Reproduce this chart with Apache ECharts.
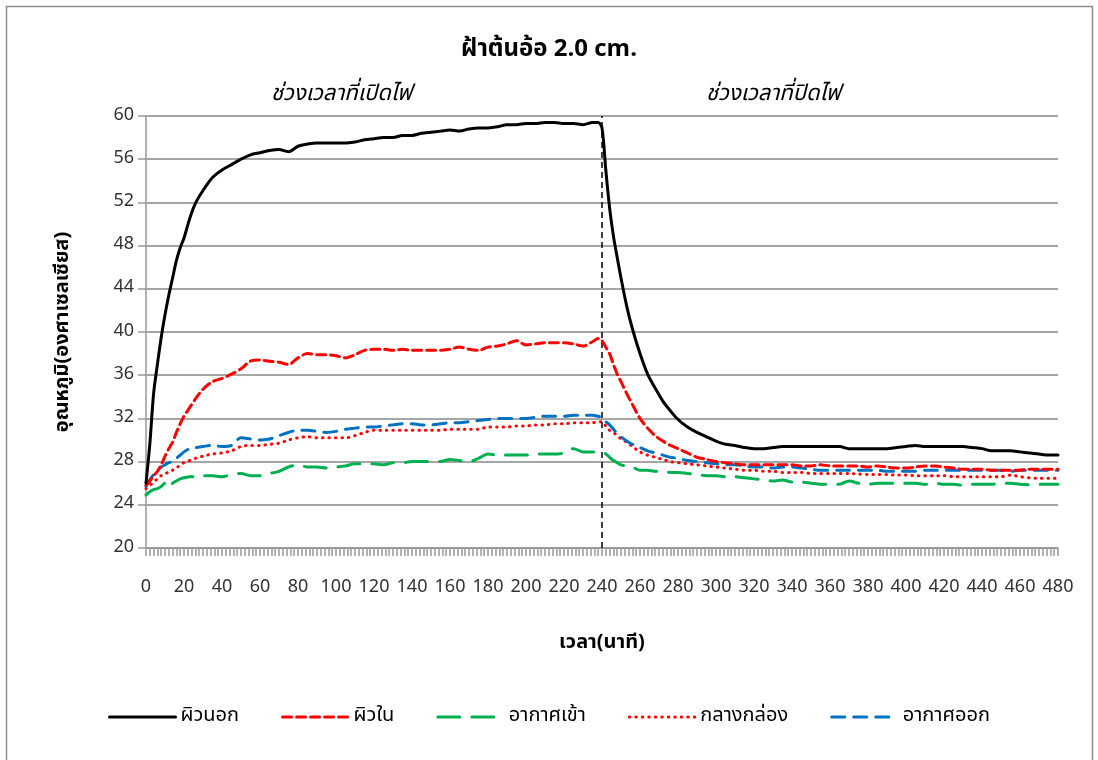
<!DOCTYPE html>
<html>
<head>
<meta charset="utf-8">
<script src="https://cdn.jsdelivr.net/npm/echarts@6/dist/echarts.min.js"></script>
<style>
  html, body { margin: 0; padding: 0; background: #fff; }
  #main { width: 1098px; height: 760px; }
</style>
</head>
<body>
<div id="main"></div>
<script>
const FONT = "Tahoma, 'Noto Sans Thai', 'Leelawadee UI', 'Noto Sans', sans-serif";

// time (minutes)
const minutes = [0,2,4,6,8,10,12,14,16,18,20,23,26,30,35,40,45,50,55,60,65,70,75,80,85,90,95,100,105,110,115,120,125,130,135,140,145,150,155,160,165,170,175,180,185,190,195,200,205,210,215,220,225,230,235,238,240,242,244,246,248,250,253,256,260,264,268,272,276,280,285,290,295,300,305,310,315,320,325,330,335,340,345,350,355,360,365,370,375,380,385,390,395,400,405,410,415,420,425,430,435,440,445,450,455,460,465,470,475,480];

const seriesNames = ['ผิวนอก', 'ผิวใน', 'อากาศเข้า', 'กลางกล่อง', 'อากาศออก'];

const outerSkin = [26.0,29.6,34.3,37.0,39.5,41.6,43.4,45.0,46.6,47.8,48.7,50.5,51.9,53.1,54.3,55.0,55.5,56.0,56.4,56.6,56.8,56.9,56.7,57.2,57.4,57.5,57.5,57.5,57.5,57.6,57.8,57.9,58.0,58.0,58.2,58.2,58.4,58.5,58.6,58.7,58.6,58.8,58.9,58.9,59.0,59.2,59.2,59.3,59.3,59.4,59.4,59.3,59.3,59.2,59.4,59.4,58.9,55.0,51.5,48.9,46.9,45.0,42.4,40.3,38.0,36.1,34.8,33.6,32.7,31.9,31.2,30.7,30.3,29.9,29.6,29.5,29.3,29.2,29.2,29.3,29.4,29.4,29.4,29.4,29.4,29.4,29.4,29.2,29.2,29.2,29.2,29.2,29.3,29.4,29.5,29.4,29.4,29.4,29.4,29.4,29.3,29.2,29.0,29.0,29.0,28.9,28.8,28.7,28.6,28.6];

const innerSkin = [25.8,26.2,26.7,27.1,27.7,28.5,29.2,29.8,30.7,31.5,32.2,33.0,33.8,34.7,35.4,35.7,36.1,36.6,37.3,37.4,37.3,37.2,37.0,37.6,38.0,37.9,37.9,37.8,37.6,37.9,38.3,38.4,38.4,38.3,38.4,38.3,38.3,38.3,38.3,38.4,38.6,38.4,38.3,38.6,38.7,38.9,39.2,38.8,38.9,39.0,39.0,39.0,38.9,38.7,39.1,39.4,39.2,38.6,38.0,37.0,36.1,35.4,34.3,33.3,32.0,31.1,30.4,29.9,29.5,29.2,28.8,28.4,28.2,28.0,27.9,27.8,27.7,27.7,27.7,27.7,27.7,27.7,27.6,27.6,27.7,27.6,27.6,27.6,27.6,27.5,27.6,27.5,27.4,27.4,27.5,27.6,27.6,27.5,27.4,27.3,27.3,27.3,27.2,27.2,27.2,27.2,27.3,27.3,27.3,27.3];

const airIn = [24.9,25.2,25.4,25.5,25.7,26.0,25.6,26.0,26.2,26.4,26.5,26.6,26.6,26.7,26.7,26.6,26.8,26.9,26.7,26.7,26.9,27.1,27.5,27.7,27.5,27.5,27.4,27.5,27.6,27.8,27.8,27.8,27.7,27.9,27.9,28.0,28.0,28.0,28.0,28.2,28.1,28.0,28.3,28.7,28.6,28.6,28.6,28.6,28.7,28.7,28.7,28.8,29.2,28.9,28.9,28.9,28.9,28.7,28.4,28.1,27.9,27.7,27.6,27.5,27.2,27.2,27.1,27.1,27.0,27.0,26.9,26.8,26.7,26.7,26.6,26.6,26.5,26.4,26.3,26.2,26.3,26.1,26.1,26.0,25.9,25.9,25.9,26.2,26.0,25.9,26.0,26.0,26.0,26.0,26.0,25.9,26.0,25.9,25.9,25.8,25.9,25.9,25.9,26.0,26.0,25.9,25.85,25.9,25.9,25.9];

const boxMiddle = [25.5,25.8,26.1,26.4,26.7,26.9,27.0,27.2,27.4,27.7,27.9,28.1,28.3,28.5,28.7,28.8,29.0,29.4,29.5,29.5,29.6,29.7,30.0,30.2,30.3,30.2,30.2,30.2,30.2,30.4,30.7,30.9,30.9,30.9,30.9,30.9,30.9,30.9,30.9,31.0,31.0,31.0,31.0,31.2,31.2,31.2,31.3,31.3,31.4,31.4,31.5,31.5,31.6,31.6,31.6,31.7,31.7,31.3,30.9,30.7,30.4,30.1,29.8,29.4,28.9,28.6,28.4,28.2,28.0,27.9,27.8,27.7,27.6,27.5,27.4,27.3,27.2,27.2,27.1,27.1,27.0,27.0,27.0,26.9,26.9,26.9,26.9,26.9,26.85,26.8,26.8,26.8,26.75,26.75,26.7,26.7,26.7,26.7,26.6,26.6,26.6,26.6,26.6,26.6,26.75,26.6,26.5,26.45,26.45,26.45];

const airOut = [25.7,26.3,26.8,27.2,27.5,27.7,27.9,28.0,28.3,28.6,28.9,29.2,29.3,29.4,29.5,29.4,29.5,30.2,30.1,30.0,30.1,30.4,30.7,30.9,30.9,30.8,30.7,30.8,31.0,31.1,31.2,31.2,31.3,31.4,31.5,31.5,31.4,31.4,31.5,31.6,31.6,31.7,31.8,31.9,32.0,32.0,32.0,32.0,32.1,32.2,32.2,32.2,32.3,32.3,32.3,32.2,32.1,31.7,31.4,31.0,30.6,30.3,29.9,29.6,29.3,29.0,28.8,28.6,28.4,28.3,28.1,28.0,27.9,27.8,27.7,27.7,27.6,27.5,27.5,27.4,27.5,27.5,27.4,27.3,27.2,27.2,27.2,27.2,27.2,27.2,27.2,27.1,27.1,27.1,27.1,27.2,27.2,27.2,27.2,27.2,27.2,27.2,27.2,27.2,27.1,27.2,27.2,27.2,27.2,27.2];

const switchOffMinute = 240;

const pairs = (vals) => minutes.map((t, i) => [t, vals[i]]);

const chart = echarts.init(document.getElementById('main'));

const lineSeries = (name, vals, color, dash, extra) => Object.assign({
  name: name,
  type: 'line',
  data: pairs(vals),
  symbol: 'none',
  smooth: 0.3,
  lineStyle: { color: color, width: 3, type: dash, cap: 'round' },
  itemStyle: { color: color },
  emphasis: { disabled: true },
  animation: false
}, extra || {});

const option = {
  backgroundColor: '#fff',
  textStyle: { fontFamily: FONT },
  title: [
    {
      text: 'ฝ้าต้นอ้อ 2.0 cm.',
      left: 'center',
      top: 34,
      textStyle: { fontFamily: FONT, fontSize: 24, fontWeight: 'bold', color: '#000' }
    },
    {
      text: 'ช่วงเวลาที่เปิดไฟ',
      left: 266,
      top: 80,
      textStyle: { fontFamily: FONT, fontSize: 22, fontStyle: 'italic', fontWeight: 'normal', color: '#000' }
    },
    {
      text: 'ช่วงเวลาที่ปิดไฟ',
      left: 701,
      top: 80,
      textStyle: { fontFamily: FONT, fontSize: 22, fontStyle: 'italic', fontWeight: 'normal', color: '#000' }
    }
  ],
  graphic: [
    {
      type: 'rect',
      shape: { x: 6.5, y: 6.5, width: 1086, height: 760 },
      style: { fill: 'none', stroke: '#8c8c8c', lineWidth: 1.5 },
      silent: true
    }
  ],
  legend: {
    bottom: 28,
    left: 'center',
    itemWidth: 66,
    itemHeight: 12,
    itemGap: 42,
    itemStyle: { opacity: 0 },
    lineStyle: { width: 3 },
    textStyle: { fontFamily: FONT, fontSize: 20, color: '#000' },
    data: seriesNames
  },
  grid: { left: 146, right: 40, top: 116, bottom: 212, containLabel: false },
  xAxis: {
    type: 'value',
    min: 0,
    max: 480,
    interval: 20,
    name: 'เวลา(นาที)',
    nameLocation: 'middle',
    nameGap: 86,
    nameTextStyle: { fontFamily: FONT, fontSize: 20, fontWeight: 'bold', color: '#000' },
    axisLine: { show: true, lineStyle: { color: '#999', width: 1.5 } },
    axisTick: { show: true, length: 8, lineStyle: { color: '#999', width: 1.5 } },
    minorTick: { show: true, splitNumber: 10, length: 8, lineStyle: { color: '#999', width: 1.5 } },
    axisLabel: { margin: 31, fontFamily: FONT, fontSize: 18, color: '#333' },
    splitLine: { show: false }
  },
  yAxis: {
    type: 'value',
    min: 20,
    max: 60,
    interval: 4,
    name: 'อุณหภูมิ(องศาเซลเซียส)',
    nameLocation: 'middle',
    nameGap: 72,
    nameTextStyle: { fontFamily: FONT, fontSize: 20, fontWeight: 'bold', color: '#000' },
    axisLine: { show: true, lineStyle: { color: '#999', width: 1.5 } },
    axisTick: { show: true, length: 8, lineStyle: { color: '#999', width: 1.5 } },
    axisLabel: { margin: 12, fontFamily: FONT, fontSize: 18, color: '#333' },
    splitLine: { show: true, lineStyle: { color: '#a6a6a6', width: 2 } }
  },
  series: [
    lineSeries(seriesNames[0], outerSkin, '#000000', 'solid', {
      z: 6,
      markLine: {
        silent: true,
        symbol: ['none', 'none'],
        label: { show: false },
        lineStyle: { color: '#000', type: [6, 4], width: 1.5 },
        data: [{ xAxis: switchOffMinute }]
      }
    }),
    lineSeries(seriesNames[1], innerSkin, '#ff0000', [9, 5], { z: 5 }),
    lineSeries(seriesNames[2], airIn, '#00b050', [22, 12], { z: 3 }),
    lineSeries(seriesNames[3], boxMiddle, '#ff0000', [0.5, 6], { z: 4 }),
    lineSeries(seriesNames[4], airOut, '#0070c0', [13, 9], { z: 4 })
  ]
};

chart.setOption(option);
</script>
</body>
</html>
